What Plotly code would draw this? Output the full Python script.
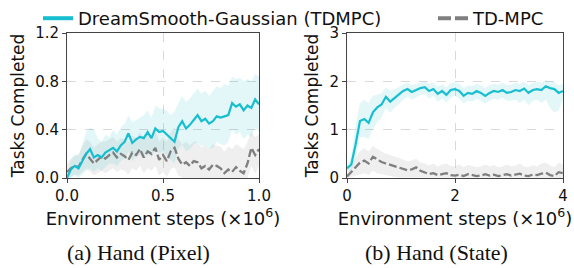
import plotly.graph_objects as go

# ---------------- data ----------------
x_pixel = [round(i * 0.02, 2) for i in range(51)]
ds_pixel_mean = [0.00, 0.07, 0.10, 0.08, 0.14, 0.20, 0.24, 0.17, 0.19, 0.17, 0.21, 0.23, 0.25, 0.22, 0.27,
                 0.30, 0.37, 0.29, 0.32, 0.34, 0.33, 0.38, 0.33, 0.41, 0.38, 0.39, 0.36, 0.33, 0.30, 0.42,
                 0.47, 0.41, 0.44, 0.48, 0.52, 0.47, 0.49, 0.45, 0.47, 0.51, 0.50, 0.51, 0.52, 0.62, 0.59,
                 0.61, 0.56, 0.60, 0.58, 0.65, 0.61]
ds_pixel_hi = [0.02, 0.15, 0.20, 0.18, 0.28, 0.38, 0.42, 0.40, 0.33, 0.30, 0.36, 0.34, 0.40, 0.36, 0.42,
               0.45, 0.52, 0.46, 0.48, 0.50, 0.52, 0.56, 0.50, 0.60, 0.58, 0.57, 0.56, 0.52, 0.55, 0.62,
               0.68, 0.63, 0.66, 0.70, 0.74, 0.70, 0.72, 0.68, 0.72, 0.76, 0.74, 0.78, 0.76, 0.84, 0.82,
               0.83, 0.80, 0.82, 0.80, 0.86, 0.84]
ds_pixel_lo = [0.00, 0.00, 0.02, 0.00, 0.03, 0.06, 0.08, 0.05, 0.08, 0.06, 0.09, 0.12, 0.12, 0.10, 0.14,
               0.16, 0.22, 0.14, 0.18, 0.19, 0.16, 0.22, 0.17, 0.24, 0.20, 0.22, 0.18, 0.15, 0.12, 0.24,
               0.28, 0.22, 0.24, 0.28, 0.30, 0.26, 0.28, 0.24, 0.25, 0.30, 0.28, 0.27, 0.30, 0.40, 0.36,
               0.38, 0.32, 0.36, 0.34, 0.42, 0.38]
td_pixel_mean = [0.05, 0.08, 0.10, 0.09, 0.15, 0.20, 0.16, 0.12, 0.15, 0.18, 0.16, 0.19, 0.21, 0.17, 0.20,
                 0.18, 0.15, 0.21, 0.19, 0.24, 0.17, 0.22, 0.20, 0.25, 0.15, 0.19, 0.14, 0.22, 0.25, 0.16,
                 0.11, 0.13, 0.10, 0.14, 0.13, 0.08, 0.10, 0.07, 0.11, 0.10, 0.08, 0.04, 0.07, 0.05, 0.09,
                 0.06, 0.04, 0.12, 0.25, 0.19, 0.24]
td_pixel_hi = [0.12, 0.16, 0.18, 0.20, 0.26, 0.32, 0.30, 0.25, 0.28, 0.30, 0.30, 0.32, 0.34, 0.30, 0.33,
               0.32, 0.30, 0.35, 0.33, 0.38, 0.32, 0.36, 0.35, 0.40, 0.30, 0.34, 0.30, 0.38, 0.42, 0.32,
               0.28, 0.30, 0.27, 0.30, 0.30, 0.25, 0.28, 0.24, 0.28, 0.27, 0.26, 0.22, 0.26, 0.24, 0.28,
               0.26, 0.24, 0.30, 0.38, 0.34, 0.36]
td_pixel_lo = [0.00, 0.01, 0.03, 0.02, 0.05, 0.08, 0.05, 0.02, 0.04, 0.06, 0.04, 0.06, 0.08, 0.05, 0.07,
               0.06, 0.03, 0.08, 0.06, 0.10, 0.04, 0.08, 0.06, 0.10, 0.02, 0.05, 0.01, 0.07, 0.09, 0.02,
               0.00, 0.00, 0.00, 0.00, 0.00, 0.00, 0.00, 0.00, 0.00, 0.00, 0.00, 0.00, 0.00, 0.00, 0.00,
               0.00, 0.00, 0.00, 0.10, 0.04, 0.10]

x_state = [round(i * 0.08, 2) for i in range(51)]
ds_state_mean = [0.20, 0.28, 0.70, 1.18, 1.22, 1.14, 1.36, 1.46, 1.52, 1.68, 1.58, 1.66, 1.72, 1.80, 1.84,
                 1.78, 1.82, 1.86, 1.88, 1.80, 1.84, 1.74, 1.80, 1.72, 1.82, 1.84, 1.80, 1.70, 1.76, 1.74,
                 1.80, 1.76, 1.70, 1.76, 1.80, 1.78, 1.82, 1.76, 1.78, 1.82, 1.80, 1.85, 1.76, 1.82, 1.84,
                 1.82, 1.90, 1.86, 1.84, 1.76, 1.80]
ds_state_hi = [0.25, 0.45, 1.10, 1.55, 1.62, 1.55, 1.70, 1.72, 1.76, 1.88, 1.80, 1.84, 1.88, 1.94, 1.97,
               1.92, 1.95, 1.98, 2.00, 1.94, 1.97, 1.90, 1.94, 1.88, 1.96, 1.98, 1.95, 1.86, 1.92, 1.90,
               1.95, 1.92, 1.86, 1.92, 1.95, 1.93, 1.97, 1.92, 1.93, 1.97, 1.95, 1.99, 1.92, 1.97, 1.99,
               1.97, 2.03, 2.00, 1.98, 1.92, 1.95]
ds_state_lo = [0.15, 0.15, 0.40, 0.85, 0.85, 0.80, 1.02, 1.15, 1.25, 1.45, 1.35, 1.45, 1.52, 1.62, 1.68,
               1.62, 1.66, 1.72, 1.74, 1.64, 1.70, 1.58, 1.64, 1.56, 1.66, 1.70, 1.64, 1.54, 1.60, 1.58,
               1.64, 1.60, 1.54, 1.60, 1.64, 1.62, 1.66, 1.60, 1.60, 1.62, 1.55, 1.62, 1.50, 1.60, 1.62,
               1.55, 1.62, 1.45, 1.35, 1.40, 1.62]
td_state_mean = [0.03, 0.12, 0.22, 0.32, 0.36, 0.30, 0.44, 0.38, 0.33, 0.30, 0.27, 0.24, 0.22, 0.18, 0.16,
                 0.18, 0.22, 0.15, 0.12, 0.08, 0.10, 0.06, 0.08, 0.10, 0.06, 0.05, 0.07, 0.04, 0.08, 0.06,
                 0.04, 0.05, 0.08, 0.05, 0.07, 0.04, 0.06, 0.08, 0.05, 0.07, 0.09, 0.05, 0.04, 0.07, 0.06,
                 0.09, 0.11, 0.06, 0.04, 0.12, 0.10]
td_state_hi = [0.08, 0.25, 0.42, 0.55, 0.62, 0.55, 0.66, 0.60, 0.55, 0.50, 0.48, 0.44, 0.42, 0.38, 0.34,
               0.36, 0.40, 0.32, 0.30, 0.26, 0.30, 0.24, 0.28, 0.30, 0.25, 0.24, 0.28, 0.22, 0.27, 0.25,
               0.22, 0.24, 0.28, 0.24, 0.27, 0.22, 0.24, 0.28, 0.24, 0.26, 0.30, 0.24, 0.22, 0.27, 0.24,
               0.30, 0.32, 0.26, 0.22, 0.32, 0.28]
td_state_lo = [0.00, 0.02, 0.05, 0.08, 0.10, 0.06, 0.15, 0.10, 0.08, 0.06, 0.04, 0.02, 0.01, 0.00, 0.00,
               0.00, 0.00, 0.00, 0.00, 0.00, 0.00, 0.00, 0.00, 0.00, 0.00, 0.00, 0.00, 0.00, 0.00, 0.00,
               0.00, 0.00, 0.00, 0.00, 0.00, 0.00, 0.00, 0.00, 0.00, 0.00, 0.00, 0.00, 0.00, 0.00, 0.00,
               0.00, 0.00, 0.00, 0.00, 0.00, 0.00]

series_names = ["DreamSmooth-Gaussian (TDMPC)", "TD-MPC"]
xtick_pixel = [0.0, 0.5, 1.0]
xtick_pixel_text = ["0.0", "0.5", "1.0"]
ytick_pixel = [0.0, 0.4, 0.8, 1.2]
ytick_pixel_text = ["0.0", "0.4", "0.8", "1.2"]
xtick_state = [0, 2, 4]
xtick_state_text = ["0", "2", "4"]
ytick_state = [0, 1, 2, 3]
ytick_state_text = ["0", "1", "2", "3"]
captions = ["(a) Hand (Pixel)", "(b) Hand (State)"]

# ---------------- figure ----------------
CYAN = "#17becf"
GRAY = "#7f7f7f"
FONT = "DejaVu Sans"
TXT = "#111111"

fig = go.Figure()


def band(x, lo, hi, color, xa, ya):
    fig.add_trace(go.Scatter(x=list(x) + list(x)[::-1], y=list(hi) + list(lo)[::-1],
                             fill="toself", fillcolor=color, line=dict(width=0),
                             mode="lines", hoverinfo="skip", showlegend=False,
                             xaxis=xa, yaxis=ya))


band(x_pixel, td_pixel_lo, td_pixel_hi, "rgba(127,127,127,0.12)", "x", "y")
band(x_pixel, ds_pixel_lo, ds_pixel_hi, "rgba(23,190,207,0.12)", "x", "y")
band(x_state, td_state_lo, td_state_hi, "rgba(127,127,127,0.12)", "x2", "y2")
band(x_state, ds_state_lo, ds_state_hi, "rgba(23,190,207,0.12)", "x2", "y2")

DASH = "8px,3px"
for xs, ds, td, xa, ya in [(x_pixel, ds_pixel_mean, td_pixel_mean, "x", "y"),
                           (x_state, ds_state_mean, td_state_mean, "x2", "y2")]:
    fig.add_trace(go.Scatter(x=xs, y=td, mode="lines", name=series_names[1],
                             line=dict(color=GRAY, width=2.3, dash=DASH), showlegend=False,
                             xaxis=xa, yaxis=ya))
    fig.add_trace(go.Scatter(x=xs, y=ds, mode="lines", name=series_names[0],
                             line=dict(color=CYAN, width=2.2), showlegend=False,
                             xaxis=xa, yaxis=ya))

# legend entries (legend keys drawn thicker, as in the reference)
fig.add_trace(go.Scatter(x=[None], y=[None], mode="lines", name=series_names[0],
                         line=dict(color=CYAN, width=4), legend="legend", xaxis="x", yaxis="y"))
fig.add_trace(go.Scatter(x=[None], y=[None], mode="lines", name=series_names[1],
                         line=dict(color=GRAY, width=4, dash="13px,4px"), legend="legend2",
                         xaxis="x", yaxis="y"))

W, H = 574, 268
ydom = [1 - 178 / H, 1 - 33 / H]
axis_common = dict(showline=True, mirror=True, linecolor="#444444", linewidth=1,
                   ticks="outside", ticklen=4, tickcolor="#444444", automargin=False,
                   showgrid=True, gridcolor="#d9d9d9", griddash="dash", gridwidth=1,
                   zeroline=False, tickfont=dict(family=FONT, size=15, color=TXT))
xtitle_font = dict(family=FONT, size=18, color=TXT)
ytitle_font = dict(family=FONT, size=17, color=TXT)

xtitle = "Environment steps (×10<sup>6</sup>)"
leg_common = dict(orientation="h", y=1.0, xanchor="left", yanchor="top",
                  font=dict(family=FONT, size=18, color=TXT), bgcolor="rgba(0,0,0,0)")
fig.update_layout(
    width=W, height=H,
    margin=dict(l=0, r=0, t=0, b=0),
    paper_bgcolor="white", plot_bgcolor="white",
    font=dict(family=FONT),
    xaxis=dict(domain=[67 / W, 259 / W], range=[0, 1.0], tickvals=xtick_pixel, ticktext=xtick_pixel_text,
               title=dict(text=xtitle, standoff=3, font=xtitle_font), anchor="y", **axis_common),
    yaxis=dict(domain=ydom, range=[0, 1.2], tickvals=ytick_pixel, ticktext=ytick_pixel_text,
               title=dict(text="Tasks Completed", standoff=6, font=ytitle_font), anchor="x", **axis_common),
    xaxis2=dict(domain=[347 / W, 563 / W], range=[0, 4], tickvals=xtick_state, ticktext=xtick_state_text,
                title=dict(text=xtitle, standoff=3, font=xtitle_font), anchor="y2", **axis_common),
    yaxis2=dict(domain=ydom, range=[0, 3], tickvals=ytick_state, ticktext=ytick_state_text,
                title=dict(text="Tasks Completed", standoff=6, font=ytitle_font), anchor="x2", **axis_common),
    legend=dict(x=38 / W, **leg_common),
    legend2=dict(x=433 / W, **leg_common),
    showlegend=True,
)

cap_x = [138 / W, 436 / W]
for cx, txt in zip(cap_x, captions):
    fig.add_annotation(x=cx, y=1 - 252 / H, xref="paper", yref="paper", text=txt, showarrow=False,
                       font=dict(family="Liberation Serif", size=22, color=TXT),
                       xanchor="center", yanchor="middle")

fig.write_html("out.html", config={"displayModeBar": False},
               post_script="document.body.style.margin='0';document.body.style.overflow='hidden';")
